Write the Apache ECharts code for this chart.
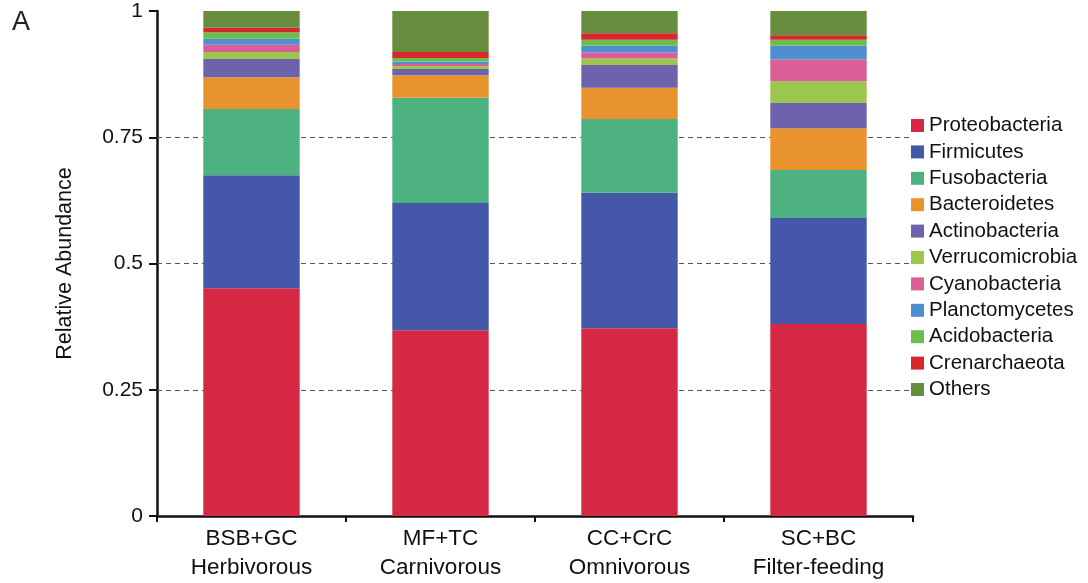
<!DOCTYPE html>
<html>
<head>
<meta charset="utf-8">
<script src="https://cdn.jsdelivr.net/npm/echarts@6/dist/echarts.min.js"></script>
<style>html,body{margin:0;padding:0;background:#fff}#c{width:1088px;height:583px}</style>
</head>
<body>
<div id="c"></div>
<script>
const categories = ['BSB+GC\nHerbivorous', 'MF+TC\nCarnivorous', 'CC+CrC\nOmnivorous', 'SC+BC\nFilter-feeding'];
const seriesNames = ['Proteobacteria','Firmicutes','Fusobacteria','Bacteroidetes','Actinobacteria','Verrucomicrobia','Cyanobacteria','Planctomycetes','Acidobacteria','Crenarchaeota','Others'];
const Proteobacteria  = [0.451, 0.368, 0.372, 0.380];
const Firmicutes      = [0.224, 0.252, 0.268, 0.210];
const Fusobacteria    = [0.131, 0.208, 0.146, 0.095];
const Bacteroidetes   = [0.063, 0.045, 0.062, 0.083];
const Actinobacteria  = [0.036, 0.012, 0.045, 0.050];
const Verrucomicrobia = [0.014, 0.006, 0.013, 0.043];
const Cyanobacteria   = [0.014, 0.004, 0.012, 0.043];
const Planctomycetes  = [0.012, 0.005, 0.013, 0.027];
const Acidobacteria   = [0.013, 0.007, 0.012, 0.012];
const Crenarchaeota   = [0.009, 0.012, 0.013, 0.009];
const Others          = [0.033, 0.082, 0.044, 0.048];
const yTicks = [0, 0.25, 0.5, 0.75, 1];
const yTickLabels = ['0', '0.25', '0.5', '0.75', '1'];
const gridValues = [0.25, 0.5, 0.75];

const values = [Proteobacteria, Firmicutes, Fusobacteria, Bacteroidetes, Actinobacteria, Verrucomicrobia, Cyanobacteria, Planctomycetes, Acidobacteria, Crenarchaeota, Others];
const colors = ['#D42844','#4457A8','#4DB280','#E8932D','#6E62AC','#9CC74F','#DB5F96','#4F8ED1','#6CBD4E','#D8272D','#688D3F'];
const font = 'Liberation Sans, Arial, sans-serif';

const chart = echarts.init(document.getElementById('c'), null, {renderer: 'canvas'});
chart.setOption({
  animation: false,
  backgroundColor: '#fff',
  color: colors,
  title: {
    text: 'A', left: 7, top: 4,
    textStyle: {fontFamily: font, fontSize: 27, fontWeight: 'normal', color: '#222'}
  },
  grid: {left: 157, right: 175, top: 11, bottom: 67, containLabel: false},
  legend: {
    orient: 'vertical', left: 906, top: 110,
    icon: 'rect', itemWidth: 13, itemHeight: 13, itemGap: 5.4,
    data: seriesNames,
    textStyle: {fontFamily: font, fontSize: 20.5, color: '#111', lineHeight: 21}
  },
  xAxis: {
    type: 'category', data: categories,
    axisLine: {lineStyle: {color: '#111', width: 2.5}},
    axisTick: {show: true, length: 6, lineStyle: {color: '#111', width: 2}},
    axisLabel: {fontFamily: font, fontSize: 22.5, color: '#111', lineHeight: 29.5, margin: 8}
  },
  yAxis: {
    type: 'value', min: 0, max: 1, interval: 0.25,
    name: 'Relative Abundance', nameLocation: 'middle', nameGap: 81,
    nameTextStyle: {fontFamily: font, fontSize: 21.5, color: '#111'},
    axisLine: {show: true, lineStyle: {color: '#111', width: 2.5}},
    axisTick: {show: true, length: 8, lineStyle: {color: '#111', width: 2}},
    axisLabel: {fontFamily: font, fontSize: 21, color: '#111', margin: 14,
      formatter: v => { const i = yTicks.indexOf(Math.round(v*100)/100); return i >= 0 ? yTickLabels[i] : ''; }},
    splitLine: {show: false}
  },
  series: seriesNames.map((n, i) => {
    const s = {
      name: n, type: 'bar', stack: 'total', barWidth: '51%',
      data: values[i],
      itemStyle: {color: colors[i]}
    };
    if (i === 0) {
      s.markLine = {
        silent: true, symbol: 'none', z: 1,
        label: {show: false},
        lineStyle: {color: '#555', type: [5, 4], width: 1},
        data: gridValues.map(v => ({yAxis: v}))
      };
    }
    return s;
  })
});
</script>
</body>
</html>
